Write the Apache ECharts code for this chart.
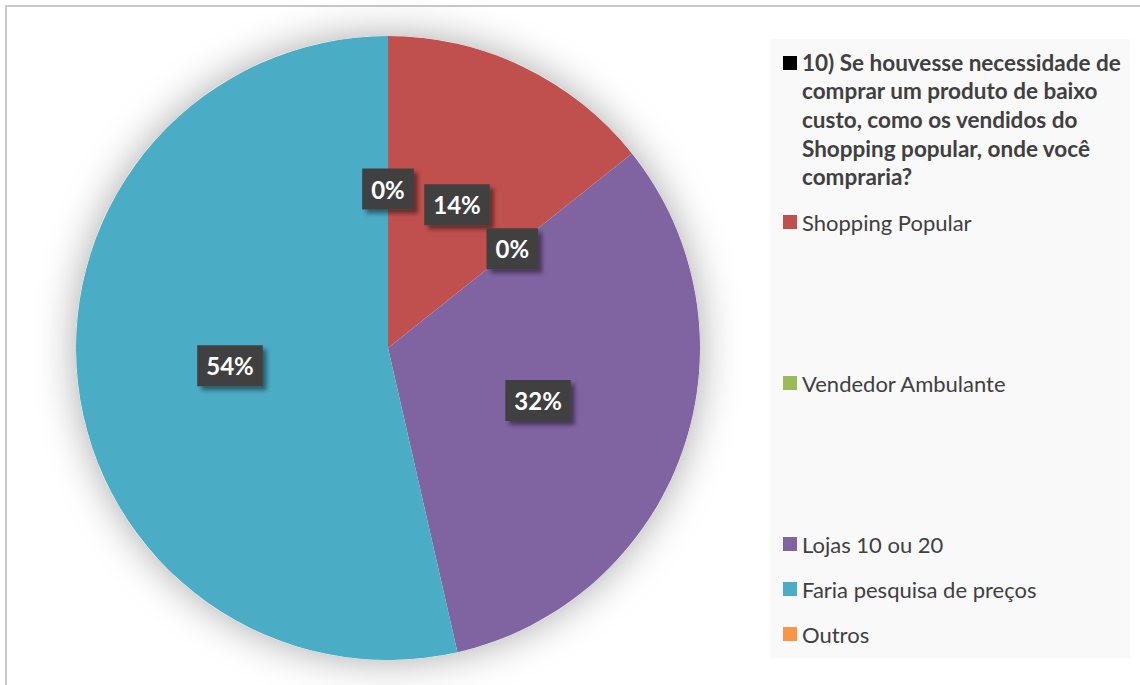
<!DOCTYPE html>
<html>
<head>
<meta charset="utf-8">
<script src="https://cdn.jsdelivr.net/npm/echarts@6/dist/echarts.min.js"></script>
<style>
  html, body { margin: 0; padding: 0; background: #fff; }
  #frame { position: absolute; left: 5px; top: 5px; width: 1300px; height: 900px;
           border-left: 2px solid #c8c8c8; border-top: 2px solid #c8c8c8; }
  #chart { position: absolute; left: 0; top: 0; width: 1140px; height: 685px; }
</style>
</head>
<body>
<div id="frame"></div>
<div id="chart"></div>
<script>
const titleText = '10) Se houvesse necessidade de\ncomprar um produto de baixo\ncusto, como os vendidos do\nShopping popular, onde você\ncompraria?';
const categories = ['Shopping Popular', 'Vendedor Ambulante', 'Lojas 10 ou 20', 'Faria pesquisa de preços', 'Outros'];
const values = [4, 0, 9, 15, 0];
const colors = ['#C0504D', '#9BBB59', '#8064A2', '#4BACC6', '#F79646'];
const legendTops = [208, 369, 530, 575, 620];

const FONT = 'Lato, "Noto Sans", sans-serif';
const chart = echarts.init(document.getElementById('chart'), null, { renderer: 'svg' });

const legends = categories.map((name, i) => ({
  data: [name],
  left: 783,
  top: legendTops[i],
  orient: 'vertical',
  padding: 0,
  icon: 'rect',
  itemWidth: 14,
  itemHeight: 14,
  selectedMode: false,
  textStyle: { fontFamily: FONT, fontSize: 22, color: '#404040', lineHeight: 28 }
}));

const option = {
  animation: false,
  color: colors,
  title: {
    text: titleText,
    left: 802,
    top: 48,
    padding: 0,
    textStyle: { fontFamily: FONT, fontSize: 22.5, fontWeight: 'bold', color: '#404040', lineHeight: 28.6 }
  },
  legend: legends,
  graphic: [
    { type: 'rect', z: -10, shape: { x: 770, y: 39, width: 360, height: 619 }, style: { fill: '#f9f9f9' } },
    { type: 'rect', shape: { x: 783, y: 56, width: 14, height: 14 }, style: { fill: '#000' } }
  ],
  series: [
    {
      type: 'pie',
      name: 'shadow',
      silent: true,
      z: 1,
      center: [388, 348],
      radius: 312,
      label: { show: false },
      labelLine: { show: false },
      itemStyle: { color: '#ffffff', shadowBlur: 40, shadowColor: 'rgba(0,0,0,0.34)' },
      data: [{ value: values.reduce((a, b) => a + b, 0), name: '' }]
    },
    {
      type: 'pie',
      z: 2,
      center: [388, 348],
      radius: 312,
      startAngle: 90,
      clockwise: true,
      avoidLabelOverlap: false,
      stillShowZeroSum: true,
      minShowLabelAngle: 0,
      itemStyle: { borderWidth: 0 },
      emphasis: { disabled: true },
      label: {
        show: true,
        position: 'inside',
        formatter: p => Math.round(p.percent) + '%',
        fontFamily: FONT,
        fontSize: 24,
        fontWeight: 'bold',
        color: '#ffffff',
        lineHeight: 25,
        backgroundColor: '#404040',
        padding: [8, 9, 8, 9],
        shadowColor: 'rgba(0,0,0,0.45)',
        shadowBlur: 4,
        shadowOffsetX: 4,
        shadowOffsetY: 4
      },
      labelLine: { show: false },
      data: categories.map((name, i) => ({ name, value: values[i] }))
    }
  ]
};
chart.setOption(option);
</script>
</body>
</html>
